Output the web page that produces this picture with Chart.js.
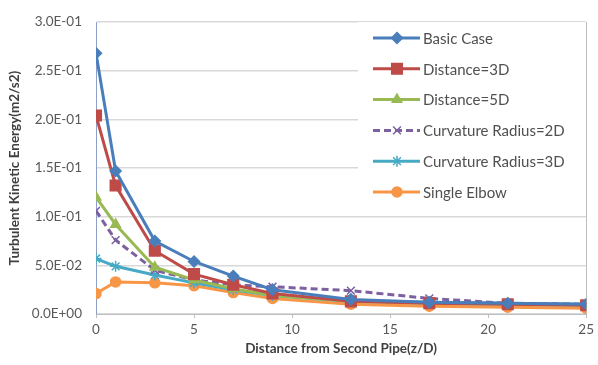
<!DOCTYPE html>
<html>
<head>
<meta charset="utf-8">
<script src="https://cdn.jsdelivr.net/npm/chart.js@4/dist/chart.umd.min.js"></script>
<style>
  html, body { margin: 0; padding: 0; background: #fff; }
  #wrap { width: 598px; height: 365px; }
</style>
</head>
<body>
<div id="wrap"><canvas id="tke_chart" width="598" height="365"></canvas></div>
<script>
// distance from second pipe (z/D) and the six cases
const distances = [0, 1, 3, 5, 7, 9, 13, 17, 21, 25];
const basicCase = [0.268, 0.147, 0.075, 0.054, 0.039, 0.025, 0.015, 0.012, 0.011, 0.010];
const distance3D = [0.204, 0.132, 0.065, 0.041, 0.030, 0.021, 0.013, 0.011, 0.010, 0.009];
const distance5D = [0.120, 0.092, 0.048, 0.035, 0.026, 0.019, 0.013, 0.011, 0.010, 0.009];
const curvature2D = [0.106, 0.076, 0.045, 0.035, 0.030, 0.028, 0.024, 0.016, 0.011, 0.010];
const curvature3D = [0.057, 0.049, 0.040, 0.032, 0.025, 0.019, 0.013, 0.012, 0.011, 0.010];
const singleElbow = [0.021, 0.033, 0.032, 0.029, 0.022, 0.016, 0.010, 0.008, 0.007, 0.006];

const seriesNames = ['Basic Case', 'Distance=3D', 'Distance=5D', 'Curvature Radius=2D', 'Curvature Radius=3D', 'Single Elbow'];
const yTicks = [0, 0.05, 0.1, 0.15, 0.2, 0.25, 0.3];
const xTicks = [0, 5, 10, 15, 20, 25];

const FONT = 'Lato, "Liberation Sans", sans-serif';

function pts(arr) {
  return arr.map((v, i) => ({ x: distances[i], y: v }));
}

function makeSet(label, data, color, style, radius, dash) {
  return {
    label: label,
    data: pts(data),
    borderColor: color,
    backgroundColor: color,
    borderWidth: 3,
    borderDash: dash || [],
    pointStyle: style,
    pointRadius: radius,
    pointBorderWidth: 1.5,
    pointBackgroundColor: color,
    pointBorderColor: color,
    tension: 0,
    fill: false
  };
}

// excel style sci labels, 3.0E-01 etc
function sciLabel(v) {
  if (Math.abs(v) < 1e-9) return '0.0E+00';
  let s = v.toExponential(1).toUpperCase();
  let parts = s.split('E');
  let exp = parseInt(parts[1]);
  let sign = exp < 0 ? '-' : '+';
  let e = Math.abs(exp).toString().padStart(2, '0');
  return parts[0] + 'E' + sign + e;
}

// legend sits inside the plot on the right, drawn by hand like excel does
const insideLegend = {
  id: 'insideLegend',
  afterDraw(chart) {
    const ctx = chart.ctx;
    ctx.save();
    ctx.fillStyle = '#ffffff';
    ctx.fillRect(358, 22, 228, 188);
    chart.data.datasets.forEach((ds, i) => {
      let y = 38 + i * 30.8;
      ctx.strokeStyle = ds.borderColor;
      ctx.lineWidth = ds.borderWidth;
      ctx.setLineDash(ds.borderDash);
      ctx.beginPath();
      ctx.moveTo(373, y);
      ctx.lineTo(420, y);
      ctx.stroke();
      ctx.setLineDash([]);
      ctx.fillStyle = ds.pointBackgroundColor;
      ctx.strokeStyle = ds.pointBorderColor;
      ctx.lineWidth = ds.pointBorderWidth;
      Chart.helpers.drawPoint(ctx, { pointStyle: ds.pointStyle, radius: ds.pointRadius, rotation: 0, borderWidth: ds.pointBorderWidth }, 397, y);
      ctx.fillStyle = '#505050';
      ctx.font = '15px ' + FONT;
      ctx.textBaseline = 'middle';
      ctx.textAlign = 'left';
      ctx.fillText(ds.label, 423, y + 1);
    });
    ctx.restore();
  }
};

const ctx = document.getElementById('tke_chart').getContext('2d');
new Chart(ctx, {
  type: 'line',
  data: {
    datasets: [
      makeSet(seriesNames[0], basicCase, '#4A7EBB', 'rectRot', 5.5),
      makeSet(seriesNames[1], distance3D, '#BE4B48', 'rect', 7.5),
      makeSet(seriesNames[2], distance5D, '#98B954', 'triangle', 5.5),
      makeSet(seriesNames[3], curvature2D, '#7D60A0', 'crossRot', 5.5, [7, 4]),
      makeSet(seriesNames[4], curvature3D, '#46AAC5', 'star', 5.5),
      makeSet(seriesNames[5], singleElbow, '#F79646', 'circle', 5)
    ]
  },
  options: {
    responsive: false,
    animation: false,
    layout: { padding: { left: 0, right: 10, top: 21, bottom: 0 } },
    plugins: {
      legend: { display: false },
      tooltip: { enabled: false }
    },
    scales: {
      x: {
        type: 'linear',
        min: 0,
        max: 25,
        afterBuildTicks: (axis) => { axis.ticks = xTicks.map(v => ({ value: v })); },
        afterFit: (scale) => { scale.height = 51; },
        ticks: {
          color: '#595959',
          font: { family: FONT, size: 13.5 },
          padding: 4
        },
        grid: {
          color: (c) => (c.tick && c.tick.value === 25) ? '#bfbfbf' : 'rgba(0,0,0,0)',
          drawTicks: true,
          tickLength: 4,
          tickColor: '#bfbfbf'
        },
        border: { display: true, color: '#bfbfbf', width: 1 },
        title: {
          display: true,
          text: 'Distance from Second Pipe(z/D)',
          color: '#404040',
          font: { family: FONT, size: 13.5, weight: 'bold' },
          padding: { top: 0, bottom: 8 }
        }
      },
      y: {
        min: 0,
        max: 0.3,
        afterBuildTicks: (axis) => { axis.ticks = yTicks.map(v => ({ value: v })); },
        afterFit: (scale) => { scale.width = 96; },
        ticks: {
          color: '#595959',
          font: { family: FONT, size: 13.5 },
          padding: 14,
          callback: (v) => sciLabel(v)
        },
        grid: {
          color: '#d9d9d9',
          lineWidth: 1.5,
          drawTicks: false
        },
        border: { display: true, color: '#8ea0c8', width: 1 },
        title: {
          display: true,
          text: 'Turbulent Kinetic Energy(m2/s2)',
          color: '#404040',
          font: { family: FONT, size: 13.5, weight: 'bold' },
          padding: { top: 7, bottom: 4 }
        }
      }
    }
  },
  plugins: [insideLegend]
});
</script>
</body>
</html>
